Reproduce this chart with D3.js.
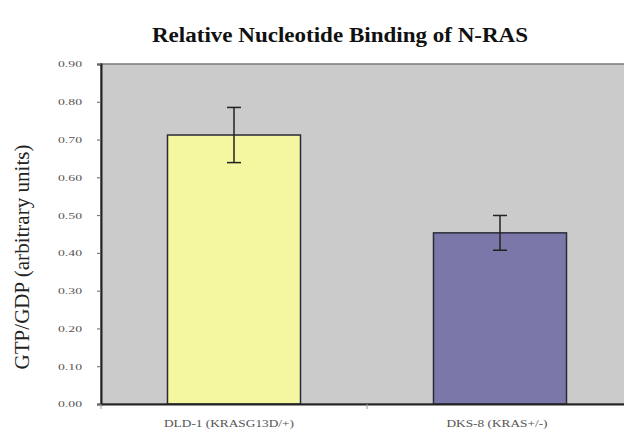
<!DOCTYPE html>
<html>
<head>
<meta charset="utf-8">
<script src="https://cdn.jsdelivr.net/npm/d3@7"></script>
<style>
  html, body { margin: 0; padding: 0; background: #fff; }
  svg { display: block; }
  text { font-family: "Liberation Serif", "Times New Roman", serif; }
</style>
</head>
<body>
<svg id="chart" width="624" height="434"></svg>
<script>
const categories = ["DLD-1 (KRASG13D/+)", "DKS-8 (KRAS+/-)"];
const values = [0.712, 0.453];
const errors = [0.073, 0.046];
const barColors = ["#f4f7a0", "#7b78a9"];
const yTicks = [0, 0.1, 0.2, 0.3, 0.4, 0.5, 0.6, 0.7, 0.8, 0.9];
const title = "Relative Nucleotide Binding of N-RAS";
const yLabel = "GTP/GDP (arbitrary units)";

const svg = d3.select("#chart");
const plot = { left: 101, right: 633, top: 64, bottom: 404 };

const x = d3.scaleBand().domain(categories)
  .range([plot.left, plot.right]).paddingInner(0.5).paddingOuter(0.25);
const y = d3.scaleLinear().domain([0, 0.9]).range([plot.bottom, plot.top]);

// plot area background
svg.append("rect")
  .attr("x", plot.left).attr("y", plot.top)
  .attr("width", plot.right - plot.left).attr("height", plot.bottom - plot.top)
  .attr("fill", "#cbcbcb").attr("stroke", "#7a7a7a").attr("stroke-width", 1.5);

// bars
svg.selectAll("rect.bar").data(categories).join("rect")
  .attr("class", "bar")
  .attr("x", d => x(d)).attr("width", x.bandwidth())
  .attr("y", (d, i) => y(values[i]))
  .attr("height", (d, i) => y(0) - y(values[i]))
  .attr("fill", (d, i) => barColors[i])
  .attr("stroke", "#2a2a3a").attr("stroke-width", 1.5);

// error bars
const cap = 7;
const eb = svg.append("g").attr("stroke", "#222").attr("stroke-width", 1.5);
categories.forEach((c, i) => {
  const cx = x(c) + x.bandwidth() / 2;
  const hi = y(values[i] + errors[i]);
  const lo = y(values[i] - errors[i]);
  eb.append("line").attr("x1", cx).attr("x2", cx).attr("y1", hi).attr("y2", lo);
  eb.append("line").attr("x1", cx - cap).attr("x2", cx + cap).attr("y1", hi).attr("y2", hi);
  eb.append("line").attr("x1", cx - cap).attr("x2", cx + cap).attr("y1", lo).attr("y2", lo);
});

// y axis
const yAxis = svg.append("g")
  .attr("transform", `translate(${plot.left},0)`)
  .call(d3.axisLeft(y).tickValues(yTicks).tickFormat(d3.format(".2f")).tickSize(4).tickPadding(15));
yAxis.select(".domain").attr("stroke", "#222").attr("stroke-width", 2);
yAxis.selectAll(".tick line").attr("stroke", "#666");
yAxis.selectAll(".tick text").attr("font-size", 9).attr("fill", "#555")
  .attr("font-family", "Liberation Serif, serif")
  .attr("textLength", 24).attr("lengthAdjust", "spacingAndGlyphs");

// x axis
const xLabelLen = [130, 101];
const xAxis = svg.append("g")
  .attr("transform", `translate(0,${plot.bottom})`)
  .call(d3.axisBottom(x).tickSize(0).tickPadding(16));
xAxis.select(".domain").attr("stroke", "#222").attr("stroke-width", 2);
xAxis.selectAll(".tick text").attr("font-size", 10).attr("fill", "#555")
  .attr("font-family", "Liberation Serif, serif")
  .attr("dx", (d, i) => i === 0 ? -5 : -3)
  .attr("textLength", (d, i) => xLabelLen[i]).attr("lengthAdjust", "spacingAndGlyphs");
// category separator ticks
const seps = [plot.left, plot.left + x.step()];
svg.append("g").selectAll("line").data(seps).join("line")
  .attr("x1", d => d).attr("x2", d => d)
  .attr("y1", plot.bottom).attr("y2", plot.bottom + 5)
  .attr("stroke", "#999").attr("stroke-width", 1);

// title
svg.append("text")
  .attr("x", 340).attr("y", 42)
  .attr("text-anchor", "middle")
  .attr("font-size", 20).attr("font-weight", "bold").attr("fill", "#111")
  .attr("textLength", 376).attr("lengthAdjust", "spacingAndGlyphs")
  .text(title);

// y label
svg.append("text")
  .attr("transform", "translate(29,257) rotate(-90)")
  .attr("text-anchor", "middle")
  .attr("font-size", 20).attr("fill", "#222")
  .attr("textLength", 225).attr("lengthAdjust", "spacingAndGlyphs")
  .text(yLabel);
</script>
</body>
</html>
